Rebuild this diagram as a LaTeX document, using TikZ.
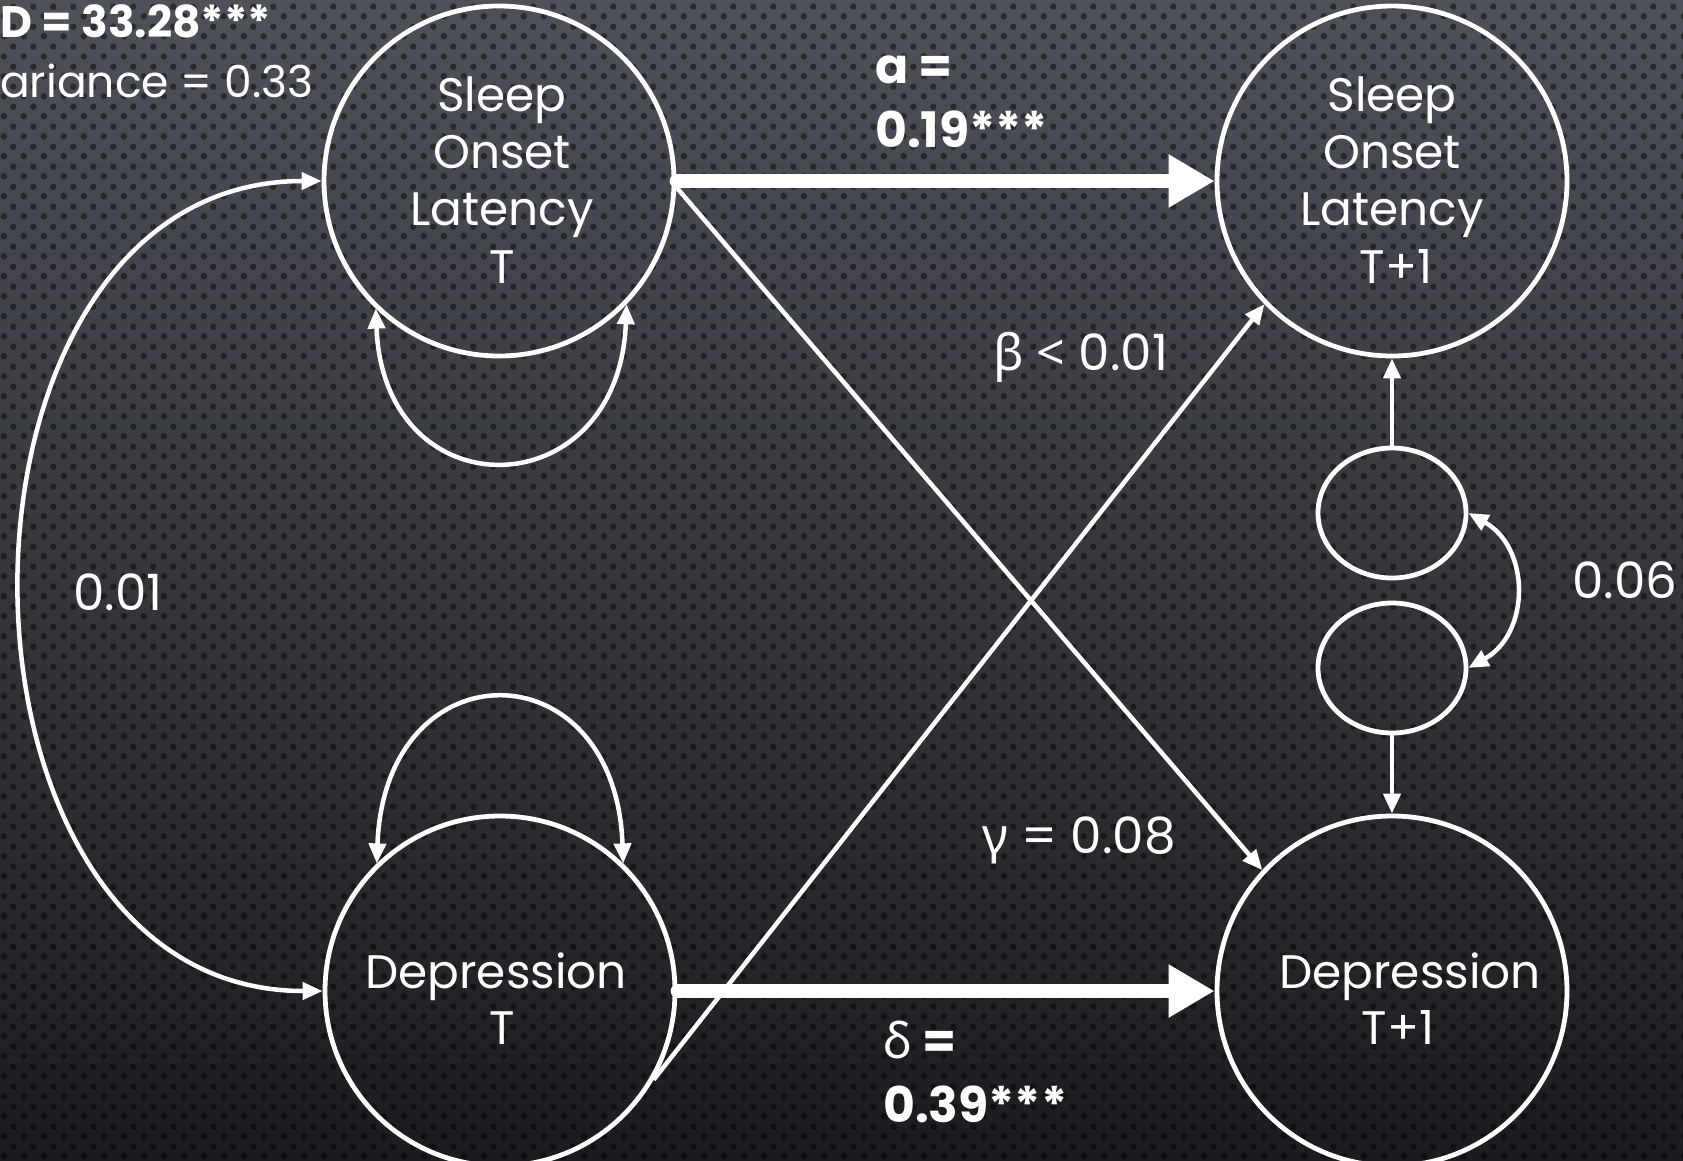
\documentclass[tikz,border=0pt]{standalone}
\usepackage{fontspec}
\setmainfont{Poppins}
\newfontfamily\grk{Noto Sans}
\usetikzlibrary{arrows.meta,shapes.geometric,patterns.meta}
\pgfdeclarepattern{
  name=bgdots, type=uncolored,
  bottom left={\pgfpoint{0pt}{0pt}}, top right={\pgfpoint{20pt}{20pt}},
  tile size={\pgfpoint{20pt}{20pt}},
  code={\pgfpathcircle{\pgfpoint{5pt}{5pt}}{3.4pt}\pgfpathcircle{\pgfpoint{15pt}{15pt}}{3.4pt}\pgfusepath{fill}}
}
\definecolor{bgtop}{RGB}{78,81,88}
\definecolor{bgbot}{RGB}{27,28,31}
\begin{document}
\begin{tikzpicture}[x=1pt,y=-1pt,
  big/.style={circle, draw=white, line width=4.8pt, minimum size=350pt, inner sep=0pt},
  small/.style={ellipse, draw=white, line width=4.8pt, minimum width=148pt, minimum height=130pt, inner sep=0pt},
  thin arrow/.style={draw=white, line width=4.5pt, -{Triangle[length=20pt,width=17pt]}},
  dbl arrow/.style={draw=white, line width=4.5pt, {Triangle[length=20pt,width=17pt]}-{Triangle[length=20pt,width=17pt]}},
  thick arrow/.style={draw=white, line width=13.5pt, line cap=round, -{Triangle[length=46pt,width=50pt]}},
  txt/.style={text=white, font=\fontsize{47}{56}\selectfont, inner sep=0pt, anchor=base},
  lbl/.style={text=white, font=\fontsize{50}{60}\selectfont, inner sep=0pt, anchor=base west},
  blbl/.style={lbl, font=\fontsize{49}{60}\selectfont\bfseries},
  tl/.style={text=white, font=\fontsize{44}{52}\selectfont, inner sep=0pt, anchor=base west},
  btl/.style={tl, font=\fontsize{44}{52}\selectfont\bfseries},
]
\useasboundingbox (0,0) rectangle (1683,1160);
\shade[top color=bgtop, bottom color=bgbot] (0,0) rectangle (1683,1160);
\fill[pattern=bgdots, pattern color=black, fill opacity=0.45] (0,0) rectangle (1683,1160);

\node[big] (solT) at (499,181) {};
\node[big] (solT1) at (1392,181) {};
\node[big] (depT) at (500,991) {};
\node[big] (depT1) at (1392,991) {};
\node[small] (e1) at (1392,513) {};
\node[small] (e2) at (1392,668) {};

% circle texts
\node[txt] (s1) at (502,111) {Sleep};
\node[txt] (s2) at (502,168) {Onset};
\node[txt] (s3) at (502,225) {Latency};
\node[txt] (s4) at (502,283) {T};
\node[txt] (u1) at (1392,111) {Sleep};
\node[txt] (u2) at (1392,168) {Onset};
\node[txt] (u3) at (1392,225) {Latency};
\node[txt] (u4) at (1396,283) {T+1};
\node[txt] (d1) at (496,988) {Depression};
\node[txt] (d2) at (502,1044) {T};
\node[txt] (v1) at (1410,988) {Depression};
\node[txt] (v2) at (1398,1044) {T+1};

% connectors
\draw[thick arrow] (solT.east) -- (solT1.west);
\draw[thick arrow] (depT.east) -- (depT1.west);
\draw[thin arrow] (solT.-2) -- (depT1.137);
\draw[thin arrow] (depT.-30) -- (solT1.224);
\draw[dbl arrow] (solT.226) .. controls +(8,205) and +(-8,205) .. (solT.316);
\draw[dbl arrow] (depT.134) .. controls +(8,-218) and +(-8,-218) .. (depT.46);
\draw[dbl arrow] (solT.west) .. controls +(-400,0) and +(-400,0) .. (depT.west);
\draw[thin arrow] (e1.north) -- (solT1.south);
\draw[thin arrow] (e2.south) -- (depT1.north);
\draw[dbl arrow] (e1.east) .. controls +(62,35) and +(62,-35) .. (e2.east);

% labels
\node[btl] (dlab) at (0,37) {D = 33.28***};
\node[tl] (vlab) at (0,97) {ariance = 0.33};
\node[blbl] (alab1) at (875,83) {a =};
\node[blbl] (alab2) at (875,147) {0.19***};
\node[blbl] (dl1) at (883,1058) {{\grk δ} =};
\node[blbl] (dl2) at (883,1122) {0.39***};
\node[lbl] (blab) at (993,370) {{\grk β <} 0.01};
\node[lbl] (glab) at (982,853) {{\grk γ} = 0.08};
\node[lbl] (c1) at (73,610) {0.01};
\node[lbl] (c2) at (1572,598) {0.06};
\end{tikzpicture}
\end{document}
